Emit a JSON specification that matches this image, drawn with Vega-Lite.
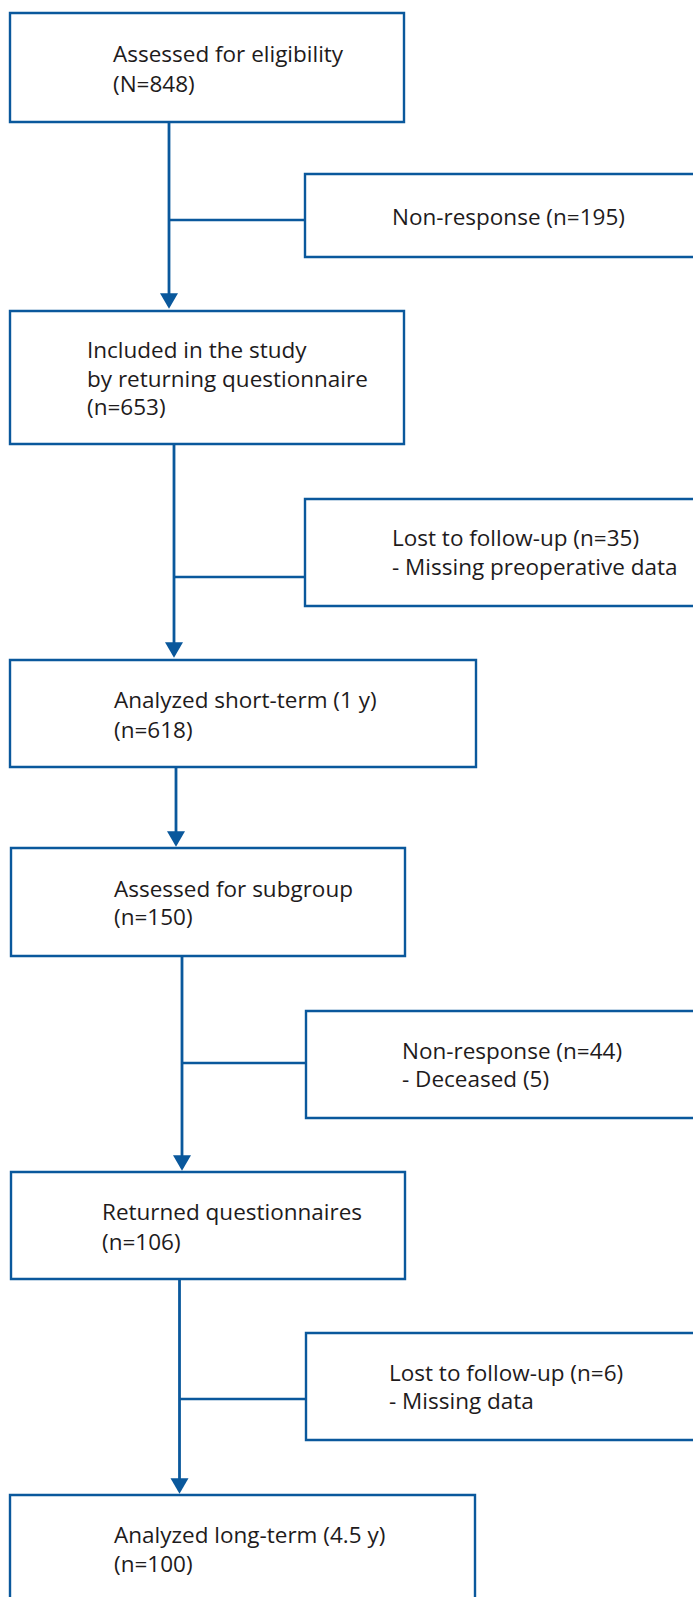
{
  "$schema": "https://vega.github.io/schema/vega-lite/v6.json",
  "width": 693,
  "height": 1597,
  "autosize": {"type": "none"},
  "padding": 0,
  "background": "white",
  "config": {"view": {"stroke": null}},
  "datasets": {
    "boxes": [
      {"id": "B1", "x0": 10, "x1": 404, "y0": 13, "y1": 122},
      {"id": "S1", "x0": 305, "x1": 700, "y0": 174, "y1": 257},
      {"id": "B2", "x0": 10, "x1": 404, "y0": 311, "y1": 444},
      {"id": "S2", "x0": 305, "x1": 700, "y0": 499, "y1": 606},
      {"id": "B3", "x0": 10, "x1": 476, "y0": 660, "y1": 767},
      {"id": "B4", "x0": 11, "x1": 405, "y0": 848, "y1": 956},
      {"id": "S3", "x0": 306, "x1": 700, "y0": 1011, "y1": 1118},
      {"id": "B5", "x0": 11, "x1": 405, "y0": 1172, "y1": 1279},
      {"id": "S4", "x0": 306, "x1": 700, "y0": 1333, "y1": 1440},
      {"id": "B6", "x0": 10, "x1": 475, "y0": 1495, "y1": 1612}
    ],
    "links": [
      {"kind": "main", "lx0": 169, "ly0": 122, "lx1": 169, "ly1": 300},
      {"kind": "branch", "lx0": 169, "ly0": 220, "lx1": 305, "ly1": 220},
      {"kind": "main", "lx0": 174, "ly0": 444, "lx1": 174, "ly1": 650},
      {"kind": "branch", "lx0": 174, "ly0": 577, "lx1": 305, "ly1": 577},
      {"kind": "main", "lx0": 176, "ly0": 767, "lx1": 176, "ly1": 839},
      {"kind": "main", "lx0": 182, "ly0": 956, "lx1": 182, "ly1": 1163},
      {"kind": "branch", "lx0": 182, "ly0": 1063, "lx1": 306, "ly1": 1063},
      {"kind": "main", "lx0": 179.5, "ly0": 1279, "lx1": 179.5, "ly1": 1486},
      {"kind": "branch", "lx0": 179.5, "ly0": 1399, "lx1": 306, "ly1": 1399}
    ],
    "arrows": [
      {"to": "B2", "ax": 169, "ay": 301},
      {"to": "B3", "ax": 174, "ay": 650},
      {"to": "B4", "ax": 176, "ay": 839},
      {"to": "B5", "ax": 182, "ay": 1163},
      {"to": "B6", "ax": 179.5, "ay": 1486}
    ],
    "labels": [
      {"box": "B1", "tx": 113, "ty": 62, "label": "Assessed for eligibility"},
      {"box": "B1", "tx": 113, "ty": 92, "label": "(N=848)"},
      {"box": "S1", "tx": 392, "ty": 225, "label": "Non-response (n=195)"},
      {"box": "B2", "tx": 87, "ty": 358, "label": "Included in the study"},
      {"box": "B2", "tx": 87, "ty": 387, "label": "by returning questionnaire"},
      {"box": "B2", "tx": 87, "ty": 415, "label": "(n=653)"},
      {"box": "S2", "tx": 392, "ty": 546, "label": "Lost to follow-up (n=35)"},
      {"box": "S2", "tx": 392, "ty": 575, "label": "- Missing preoperative data"},
      {"box": "B3", "tx": 114, "ty": 708, "label": "Analyzed short-term (1 y)"},
      {"box": "B3", "tx": 114, "ty": 738, "label": "(n=618)"},
      {"box": "B4", "tx": 114, "ty": 897, "label": "Assessed for subgroup"},
      {"box": "B4", "tx": 114, "ty": 925, "label": "(n=150)"},
      {"box": "S3", "tx": 402, "ty": 1059, "label": "Non-response (n=44)"},
      {"box": "S3", "tx": 402, "ty": 1087, "label": "- Deceased (5)"},
      {"box": "B5", "tx": 102, "ty": 1220, "label": "Returned questionnaires"},
      {"box": "B5", "tx": 102, "ty": 1250, "label": "(n=106)"},
      {"box": "S4", "tx": 389, "ty": 1381, "label": "Lost to follow-up (n=6)"},
      {"box": "S4", "tx": 389, "ty": 1409, "label": "- Missing data"},
      {"box": "B6", "tx": 114, "ty": 1543, "label": "Analyzed long-term (4.5 y)"},
      {"box": "B6", "tx": 114, "ty": 1572, "label": "(n=100)"}
    ]
  },
  "layer": [
    {
      "data": {"name": "boxes"},
      "mark": {"type": "rect", "fill": "white", "stroke": "#0a589c", "strokeWidth": 2.4},
      "encoding": {
        "x": {"field": "x0", "type": "quantitative", "scale": {"domain": [0, 693], "nice": false, "zero": false}, "axis": null},
        "x2": {"field": "x1"},
        "y": {"field": "y0", "type": "quantitative", "scale": {"domain": [0, 1597], "reverse": true, "nice": false, "zero": false}, "axis": null},
        "y2": {"field": "y1"}
      }
    },
    {
      "data": {"name": "links"},
      "transform": [{"filter": "datum.kind === 'main'"}],
      "mark": {"type": "rule", "stroke": "#0a589c", "strokeWidth": 2.8},
      "encoding": {
        "x": {"field": "lx0", "type": "quantitative"},
        "x2": {"field": "lx1"},
        "y": {"field": "ly0", "type": "quantitative"},
        "y2": {"field": "ly1"}
      }
    },
    {
      "data": {"name": "links"},
      "transform": [{"filter": "datum.kind === 'branch'"}],
      "mark": {"type": "rule", "stroke": "#0a589c", "strokeWidth": 2.3},
      "encoding": {
        "x": {"field": "lx0", "type": "quantitative"},
        "x2": {"field": "lx1"},
        "y": {"field": "ly0", "type": "quantitative"},
        "y2": {"field": "ly1"}
      }
    },
    {
      "data": {"name": "arrows"},
      "mark": {"type": "point", "shape": "triangle-down", "filled": true, "fill": "#0a589c", "opacity": 1, "size": 324, "strokeWidth": 0},
      "encoding": {
        "x": {"field": "ax", "type": "quantitative"},
        "y": {"field": "ay", "type": "quantitative"}
      }
    },
    {
      "data": {"name": "labels"},
      "mark": {"type": "text", "align": "left", "baseline": "alphabetic", "font": "Open Sans", "fontSize": 22.5, "fill": "#1e1b1c"},
      "encoding": {
        "x": {"field": "tx", "type": "quantitative"},
        "y": {"field": "ty", "type": "quantitative"},
        "text": {"field": "label"}
      }
    }
  ]
}
